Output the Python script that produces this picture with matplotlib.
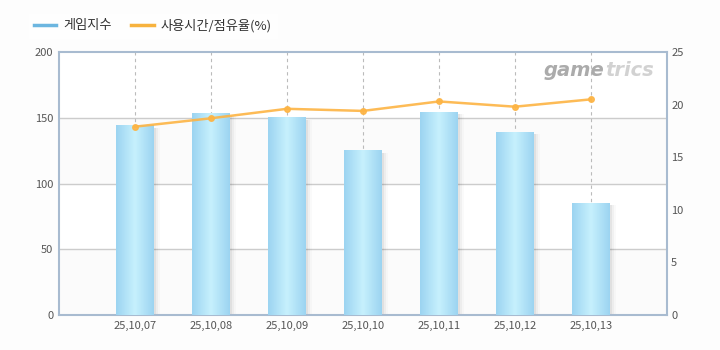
import numpy as np
import matplotlib.pyplot as plt
from matplotlib.lines import Line2D
from matplotlib.colors import LinearSegmentedColormap

plt.rcParams['font.family'] = ['Noto Sans CJK KR', 'DejaVu Sans']

dates = ['25,10,07', '25,10,08', '25,10,09', '25,10,10', '25,10,11', '25,10,12', '25,10,13']
game_index = [144, 153, 150, 125, 154, 139, 85]
usage_share = [17.9, 18.7, 19.6, 19.4, 20.3, 19.8, 20.5]

x = np.arange(1, len(dates) + 1)
bar_w = 0.5

fig = plt.figure(figsize=(7.2, 3.5), dpi=100, facecolor='#fdfdfd')
ax = fig.add_axes([59 / 720, 35 / 350, 608 / 720, 263 / 350])
ax.set_facecolor('white')

# alternating bands + grid
for lo in (0, 100):
    ax.axhspan(lo, lo + 50, color='#fbfbfb', zorder=0)
for yv in (50, 100, 150):
    ax.axhline(yv, color='#cccccc', lw=1, zorder=1)
for xv in x:
    ax.axvline(xv, color='#bbbbbb', lw=0.8, ls=(0, (3, 3)), zorder=1)

# bars: soft shadow + horizontal gradient
grad = np.concatenate([np.linspace(0, 1, 50), np.linspace(1, 0, 50)]).reshape(1, -1)
cmap = LinearSegmentedColormap.from_list('b', ['#9cd4f1', '#c6f0fd'])
for xi, v in zip(x, game_index):
    for k, a in enumerate((0.05, 0.035, 0.02)):
        ax.bar(xi + 0.03 + 0.025 * k, v - 1.5, width=bar_w, color='#000000', alpha=a, zorder=2,
               linewidth=0)
    ax.imshow(grad, cmap=cmap, aspect='auto', extent=[xi - bar_w / 2, xi + bar_w / 2, 0, v],
              zorder=3, interpolation='bilinear')
ax.set_xlim(0, 8)
ax.set_ylim(0, 200)

ax.set_xticks(x)
ax.set_xticklabels(dates)
ax.set_yticks([0, 50, 100, 150, 200])
ax.tick_params(axis='both', length=0, labelsize=8, colors='#555555', pad=4)
for s in ax.spines.values():
    s.set_color('#a8bbd0')
    s.set_linewidth(1.5)

ax2 = ax.twinx()
ax2.set_ylim(0, 25)
ax2.set_yticks([0, 5, 10, 15, 20, 25])
ax2.tick_params(axis='y', length=0, labelsize=8, colors='#555555', pad=3)
for s in ax2.spines.values():
    s.set_visible(False)
ax2.plot(x, usage_share, color='#fdb444', lw=1.8, marker='o', ms=4, alpha=0.9, zorder=5)

# watermark: "game" darker, "trics" lighter, placed side by side
wm = dict(va='center', fontsize=14, fontweight='bold', style='italic', family='DejaVu Sans')
t1 = ax.text(0.797, 0.93, 'game', transform=ax.transAxes, ha='left', color='#ababab', **wm)
fig.canvas.draw()
bb = t1.get_window_extent().transformed(ax.transAxes.inverted())
ax.text(bb.x1 + 0.001, 0.93, 'trics', transform=ax.transAxes, ha='left', color='#d2d2d2', **wm)

handles = [Line2D([], [], color='#6cb6e0', lw=2.5),
           Line2D([], [], color='#f7b23e', lw=2.5)]
leg = fig.legend(handles, ['게임지수', '사용시간/점유율(%)'], loc='upper left',
                 bbox_to_anchor=(22 / 720, 1 - 7 / 350), ncol=2, frameon=True,
                 fontsize=9.5, handlelength=1.7, columnspacing=1.5, handletextpad=0.5,
                 borderpad=0.4, fancybox=False)
leg.get_frame().set_facecolor('white')
leg.get_frame().set_edgecolor('white')
for t in leg.get_texts():
    t.set_color('#333333')

fig.savefig('out.png', dpi=100, facecolor=fig.get_facecolor())
